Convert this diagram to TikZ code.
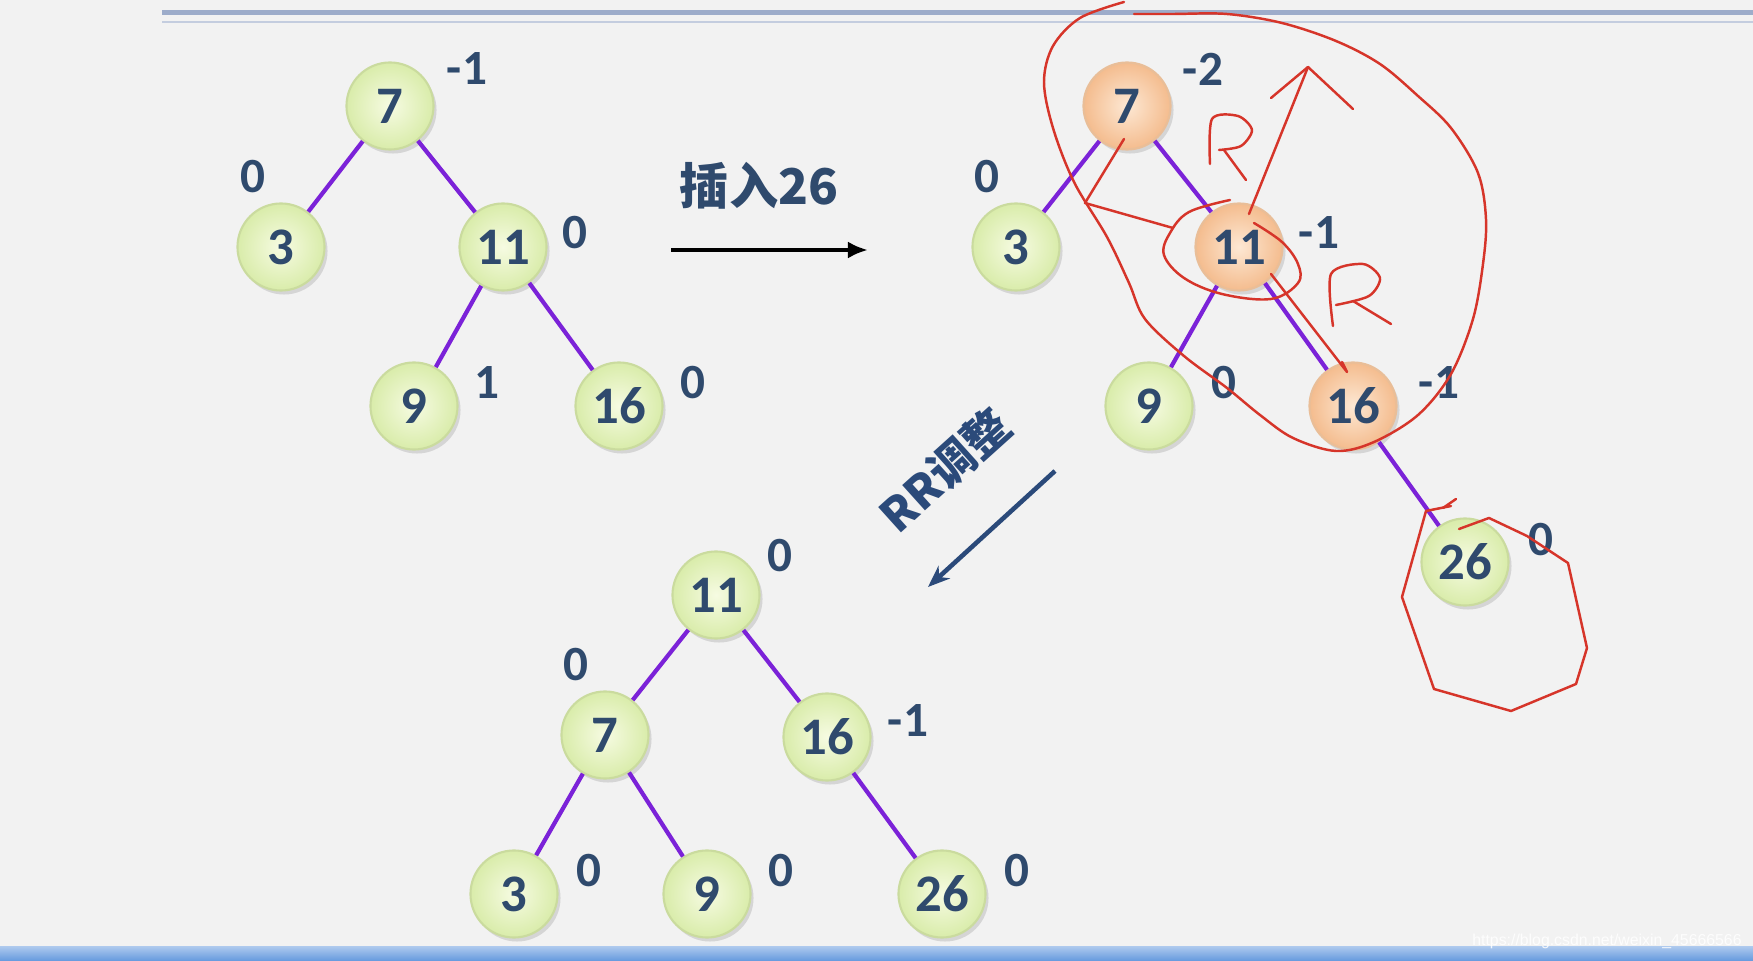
\documentclass[tikz,border=0pt]{standalone}
\usepackage{fontspec}
\setmainfont{Carlito}
\newfontfamily\cjk{Noto Sans CJK SC}
\newfontfamily\marcadagua{Liberation Sans}
\usetikzlibrary{arrows.meta,shadows}
\definecolor{fundo}{HTML}{F2F2F2}
\definecolor{tinta}{HTML}{2F4A6D}
\definecolor{aresta}{HTML}{7B22D8}
\definecolor{verdeclaro}{HTML}{F6FBE2}
\definecolor{verde}{HTML}{D9ECAA}
\definecolor{verdeborda}{HTML}{CADB9E}
\definecolor{laranjaclaro}{HTML}{FDE8D4}
\definecolor{laranja}{HTML}{F4BC8E}
\definecolor{laranjaborda}{HTML}{E9BE98}
\definecolor{caneta}{HTML}{D6352A}
\definecolor{setarr}{HTML}{2B4A7A}
\definecolor{barra}{HTML}{9DACCA}
\definecolor{barraazul}{HTML}{6499DE}
\tikzset{
  no/.style={circle, minimum size=0.87cm, inner sep=0pt, text=tinta,
    font=\fontsize{15}{15}\selectfont\bfseries,
    drop shadow={opacity=0.25, shadow xshift=0.03cm, shadow yshift=-0.04cm}},
  noverde/.style={no, draw=verdeborda, line width=0.6pt, shading=radial,
    inner color=verdeclaro, outer color=verde},
  nolaranja/.style={no, draw=laranjaborda, line width=0.6pt, shading=radial,
    inner color=laranjaclaro, outer color=laranja},
  fator/.style={text=tinta, inner sep=0pt, font=\fontsize{14}{14}\selectfont\bfseries},
  ligacao/.style={draw=aresta, line width=1.2pt},
  rotulo/.style={text=tinta, inner sep=0pt, font=\cjk\fontsize{14}{14}\selectfont\bfseries},
  risco/.style={draw=caneta, line width=0.7pt, line join=round, line cap=round}
}
% estilo, nome, centro, chave, posição do fator, fator
\newcommand{\avl}[6]{%
  \node[#1] (#2) at (#3) {#4};
  \node[fator] (#2f) at (#5) {#6};}

\begin{document}
\begin{tikzpicture}[x=0.01cm, y=-0.01cm]
  \fill[fundo] (0,0) rectangle (1753,961);
  \useasboundingbox (0,0) rectangle (1753,961);
  \draw[barra, line width=0.05cm] (162,13) -- (1753,13);
  \draw[barra!60, line width=0.02cm] (162,22) -- (1753,22);
  \shade[top color=barraazul!55!white, bottom color=barraazul] (0,947) rectangle (1753,961);
  \node[text=white, opacity=0.85, inner sep=0pt, font=\marcadagua\fontsize{4.5}{5}\selectfont]
    (url) at (1607,941) {https://blog.csdn.net/weixin\_45666566};

  % árvore antes da inserção
  \avl{noverde}{a7}{390,106}{7}{467,69}{-1}
  \avl{noverde}{a3}{281,247}{3}{253,177}{0}
  \avl{noverde}{a11}{503,247}{11}{575,233}{0}
  \avl{noverde}{a9}{414,406}{9}{487,383}{1}
  \avl{noverde}{a16}{619,406}{16}{693,383}{0}
  \foreach \p/\f in {a7/a3, a7/a11, a11/a9, a11/a16}
    \draw[ligacao] (\p) -- (\f);

  \coordinate (ins0) at (671,250);
  \coordinate (ins1) at (868,250);
  \draw[line width=1.4pt, -{Latex[length=0.2cm, width=0.17cm]}] (ins0) -- (ins1);
  \node[rotulo] (insrot) at (759,186) {插入26};

  % árvore depois da inserção
  \avl{nolaranja}{b7}{1127,106}{7}{1203,69}{-2}
  \avl{noverde}{b3}{1016,247}{3}{987,177}{0}
  \avl{nolaranja}{b11}{1239,247}{11}{1319,233}{-1}
  \avl{noverde}{b9}{1149,406}{9}{1224,383}{0}
  \avl{nolaranja}{b16}{1353,406}{16}{1439,383}{-1}
  \avl{noverde}{b26}{1465,562}{26}{1541,540}{0}
  \foreach \p/\f in {b7/b3, b7/b11, b11/b9, b11/b16, b16/b26}
    \draw[ligacao] (\p) -- (\f);

  \coordinate (rr0) at (1055,471);
  \coordinate (rr1) at (928,587);
  \draw[setarr, line width=1.3pt, -{Stealth[length=0.22cm, width=0.17cm]}] (rr0) -- (rr1);
  \node[rotulo, text=setarr, rotate=42, font=\cjk\fontsize{13}{13}\selectfont\bfseries]
    (rrrot) at (945,470) {RR调整};

  % árvore ajustada
  \avl{noverde}{c11}{716,595}{11}{780,556}{0}
  \avl{noverde}{c7}{605,735}{7}{576,665}{0}
  \avl{noverde}{c16}{827,737}{16}{908,721}{-1}
  \avl{noverde}{c3}{514,894}{3}{589,871}{0}
  \avl{noverde}{c9}{707,894}{9}{781,871}{0}
  \avl{noverde}{c26}{942,894}{26}{1017,871}{0}
  \foreach \p/\f in {c11/c7, c11/c16, c7/c3, c7/c9, c16/c26}
    \draw[ligacao] (\p) -- (\f);

  % anotações à mão
  \draw[risco] plot[smooth, tension=0.55] coordinates {(1124,2) (1080,18) (1053,46) (1044,82)
    (1053,128) (1074,182) (1107,237) (1129,283) (1145,319) (1184,356) (1227,388) (1260,415)
    (1293,438) (1336,451) (1374,442) (1418,415) (1451,374) (1473,319) (1483,264) (1486,219)
    (1478,173) (1451,128) (1418,96) (1380,64) (1336,41) (1282,23) (1227,14) (1173,14) (1134,14)};
  \draw[risco] (1124,139) -- (1085,203) -- (1173,228);
  \draw[risco] plot[smooth, tension=0.6] coordinates {(1230,200) (1189,212) (1170,233) (1164,255)
    (1184,278) (1222,294) (1271,299) (1298,283) (1298,264) (1282,242) (1254,223)};
  \draw[risco] (1249,214) -- (1308,67);
  \draw[risco] (1271,98) -- (1308,67) -- (1353,109);
  \draw[risco] (1271,274) -- (1347,372) -- (1342,362);
  \draw[risco] plot[smooth, tension=0.5] coordinates {(1210,164) (1212,119) (1238,116) (1252,130)
    (1241,146) (1219,150)};
  \draw[risco] (1224,150) -- (1246,180);
  \draw[risco] plot[smooth, tension=0.5] coordinates {(1333,326) (1331,274) (1363,264) (1380,278)
    (1369,296) (1336,305)};
  \draw[risco] (1353,301) -- (1391,324);
  \draw[risco] (1443,508) -- (1456,499);
  \draw[risco] (1459,529) -- (1489,518) -- (1527,536) -- (1568,563) -- (1587,648) -- (1576,684)
    -- (1511,711) -- (1434,689) -- (1402,597) -- (1426,511) -- (1451,506);
\end{tikzpicture}
\end{document}
